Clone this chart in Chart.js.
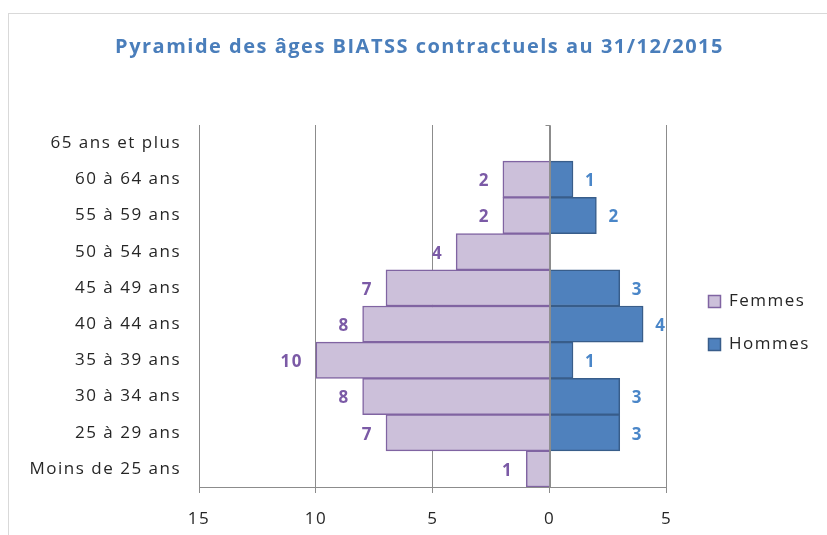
<!DOCTYPE html>
<html>
<head>
<meta charset="utf-8">
<script src="https://cdn.jsdelivr.net/npm/chart.js@4.4.1/dist/chart.umd.min.js"></script>
<style>
  html, body { margin: 0; padding: 0; background: #fff; }
  #wrap { width: 827px; height: 535px; }
</style>
</head>
<body>
<div id="wrap"><canvas id="pyramide" width="827" height="535"></canvas></div>
<script>
// Tranches d'âge, de haut en bas
var categories = [
  "65 ans et plus", "60 à 64 ans", "55 à 59 ans", "50 à 54 ans", "45 à 49 ans",
  "40 à 44 ans", "35 à 39 ans", "30 à 34 ans", "25 à 29 ans", "Moins de 25 ans"
];
var femmes = [0, 2, 2, 4, 7, 8, 10, 8, 7, 1];
var hommes = [0, 1, 2, 0, 3, 4, 1, 3, 3, 0];
var xTicks = [-15, -10, -5, 0, 5];

var FONT = "'Open Sans', sans-serif";

// espacement des lettres (rendu Excel un peu étiré)
var espacement = {
  id: 'espacement',
  beforeLayout: function(chart) { chart.ctx.letterSpacing = '1.5px'; },
  beforeDraw: function(chart) { chart.ctx.letterSpacing = '1.5px'; }
};

// cadre gris clair autour du graphique
var cadre = {
  id: 'cadre',
  beforeDraw: function(chart) {
    var c = chart.ctx;
    c.save();
    c.strokeStyle = '#d9d9d9';
    c.lineWidth = 1;
    c.strokeRect(8.5, 13.5, 840, 540);
    c.restore();
  }
};

// axe vertical au niveau de 0, par-dessus les barres
var axeZero = {
  id: 'axeZero',
  afterDatasetsDraw: function(chart) {
    var c = chart.ctx, x = Math.round(chart.scales.x.getPixelForValue(0)) + 0.5;
    var a = chart.chartArea;
    c.save();
    c.strokeStyle = '#8c8c8c';
    c.lineWidth = 1;
    c.beginPath();
    c.moveTo(x - 5, a.top + 0.5);
    c.lineTo(x, a.top + 0.5);
    c.lineTo(x, a.bottom);
    c.stroke();
    c.restore();
  }
};

// étiquettes de valeurs
var etiquettes = {
  id: 'etiquettes',
  afterDatasetsDraw: function(chart) {
    var c = chart.ctx;
    c.save();
    c.font = "bold 17px " + FONT;
    c.textBaseline = 'middle';
    chart.data.datasets.forEach(function(ds, i) {
      var meta = chart.getDatasetMeta(i);
      meta.data.forEach(function(bar, j) {
        var v = ds.data[j];
        if (!v) return;
        if (v < 0) {
          c.fillStyle = '#7b5aa6';
          c.textAlign = 'right';
          c.fillText(Math.abs(v), bar.x - 13, bar.y + 2);
        } else {
          c.fillStyle = '#4a86c8';
          c.textAlign = 'left';
          c.fillText(v, bar.x + 12, bar.y + 2);
        }
      });
    });
    c.restore();
  }
};

var ctx = document.getElementById('pyramide').getContext('2d');
var chart = new Chart(ctx, {
  type: 'bar',
  data: {
    labels: categories,
    datasets: [{
      label: 'Femmes',
      data: femmes.map(function(v) { return -v; }),
      backgroundColor: '#ccc0da',
      borderColor: '#8064a2',
      borderWidth: 1.5,
      barPercentage: 1,
      categoryPercentage: 1
    }, {
      label: 'Hommes',
      data: hommes,
      backgroundColor: '#4f81bd',
      borderColor: '#385d8a',
      borderWidth: 1.5,
      barPercentage: 1,
      categoryPercentage: 1
    }]
  },
  options: {
    indexAxis: 'y',
    responsive: false,
    animation: false,
    layout: { padding: { left: 25, right: 13, top: 0, bottom: 5 } },
    scales: {
      x: {
        stacked: true,
        min: -15,
        max: 5,
        afterBuildTicks: function(s) { s.ticks = xTicks.map(function(v) { return { value: v }; }); },
        afterFit: function(s) { s.height = 43; },
        ticks: {
          color: '#262626',
          font: { family: FONT, size: 17 },
          padding: 16,
          callback: function(value) { return Math.abs(value); }
        },
        grid: { color: '#8c8c8c', tickLength: 6, drawTicks: true },
        border: { display: true, color: '#8c8c8c' }
      },
      y: {
        stacked: true,
        afterFit: function(s) { s.width = 174; s.paddingTop = 0; s.paddingBottom = 0; },
        ticks: {
          color: '#262626',
          font: { family: FONT, size: 17 },
          padding: 10
        },
        grid: { display: false },
        border: { display: false }
      },
      // marge vide entre la zone de tracé et la légende
      marge: {
        type: 'category',
        position: 'right',
        afterFit: function(s) { s.width = 16; s.paddingTop = 0; s.paddingBottom = 0; },
        ticks: { display: false },
        grid: { display: false },
        border: { display: false }
      }
    },
    plugins: {
      title: {
        display: true,
        text: 'Pyramide des âges BIATSS contractuels au 31/12/2015',
        color: '#4a7ebb',
        font: { family: FONT, size: 20, weight: 'bold' },
        padding: { top: 35, bottom: 66 }
      },
      legend: {
        position: 'right',
        title: { display: true, text: '', font: { size: 10 }, padding: { top: 0, bottom: 104 } },
        labels: {
          color: '#262626',
          font: { family: FONT, size: 17 },
          boxWidth: 12,
          boxHeight: 12,
          padding: 26
        }
      },
      tooltip: { enabled: false }
    }
  },
  plugins: [espacement, cadre, axeZero, etiquettes]
});
</script>
</body>
</html>
